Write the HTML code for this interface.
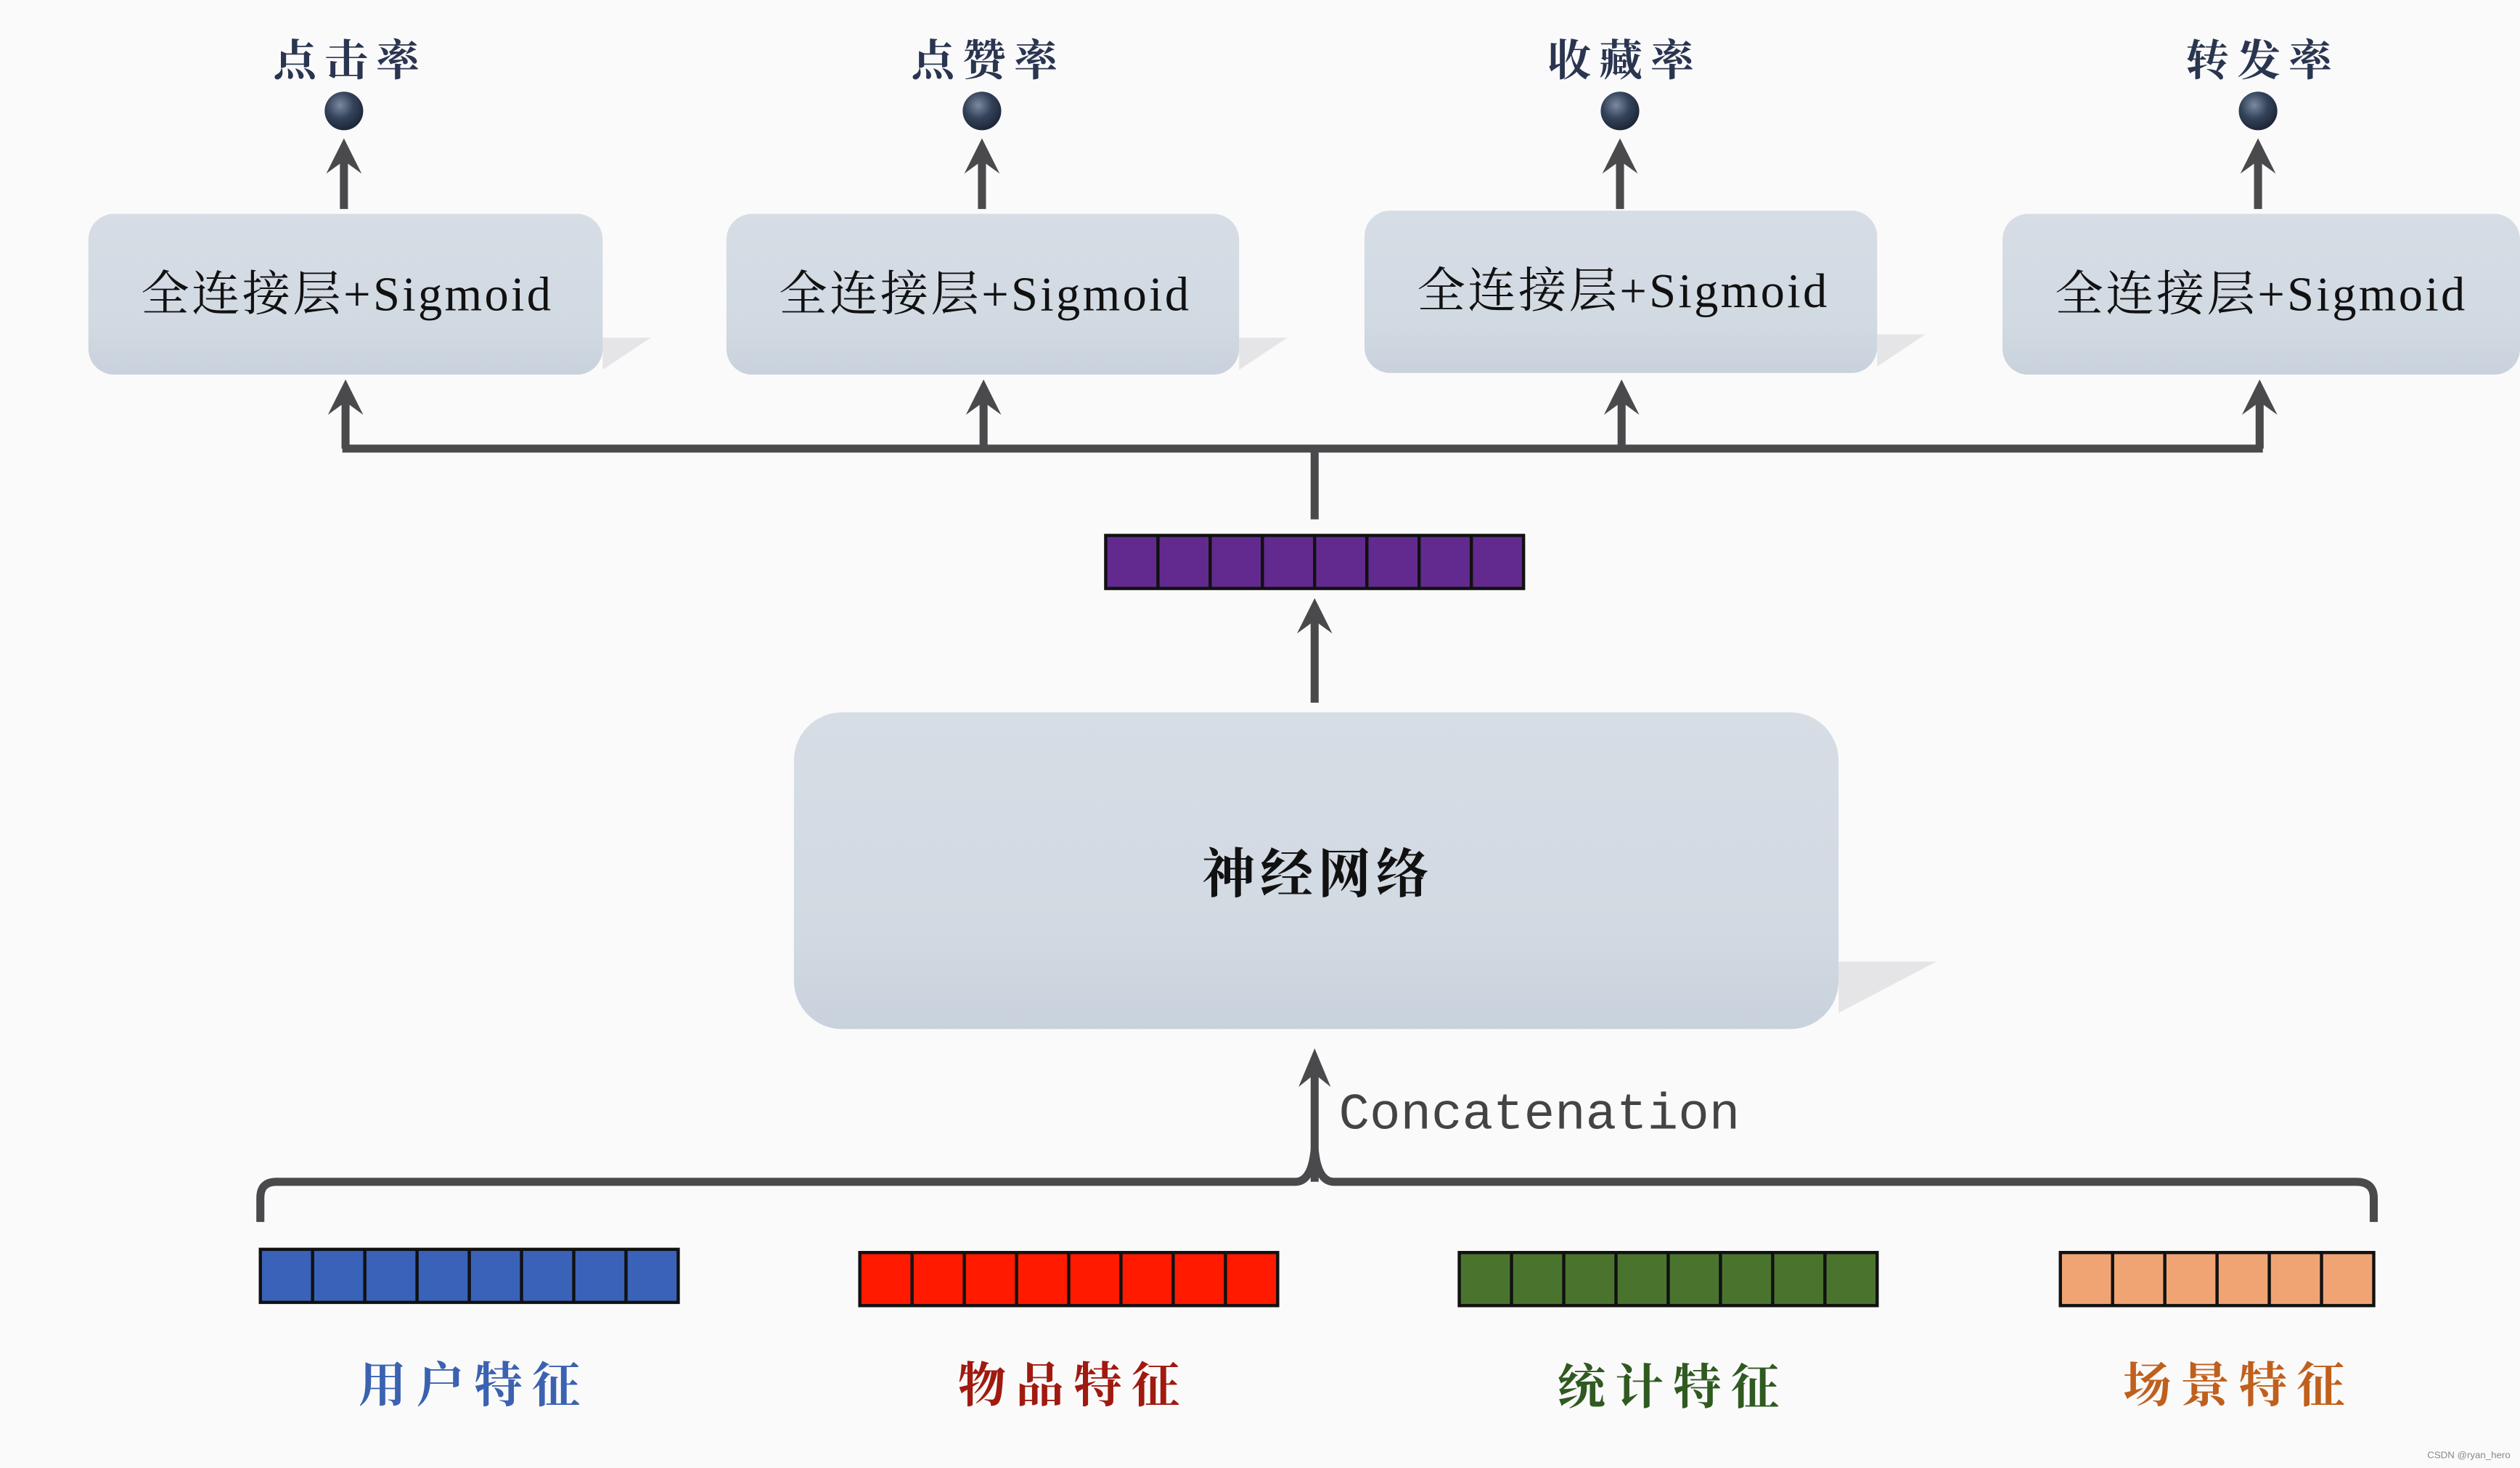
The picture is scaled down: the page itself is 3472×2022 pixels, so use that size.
<!DOCTYPE html>
<html><head><meta charset="utf-8"><style>
html,body{margin:0;padding:0;background:#fbfafb;}
svg{display:block}
</style></head><body>
<svg width="3472" height="2022" viewBox="0 0 1568 913" preserveAspectRatio="none" xmlns="http://www.w3.org/2000/svg">
<defs>
<radialGradient id="ball" cx="0.4" cy="0.35" r="0.7">
<stop offset="0" stop-color="#7a8aa0"/><stop offset="0.5" stop-color="#34435a"/><stop offset="1" stop-color="#1a2233"/>
</radialGradient>
<linearGradient id="box" x1="0" y1="0" x2="0" y2="1">
<stop offset="0" stop-color="#d6dde5"/><stop offset="0.7" stop-color="#d1d9e2"/><stop offset="1" stop-color="#c9d2dc"/>
</linearGradient>
</defs>
<rect width="1568" height="913" fill="#fbfafb"/>
<g font-family="'Liberation Serif','Noto Serif CJK SC',serif" font-weight="bold" font-size="27" fill="#2a3550" text-anchor="middle" letter-spacing="5">
<text x="218" y="47">点击率</text><text x="615" y="47">点赞率</text><text x="1011" y="47">收藏率</text><text x="1408" y="47">转发率</text>
</g>
<g fill="url(#ball)">
<circle cx="214" cy="69" r="12"/><circle cx="611" cy="69" r="12"/><circle cx="1008" cy="69" r="12"/><circle cx="1405" cy="69" r="12"/>
</g>
<g stroke="#4a4a4c" stroke-width="5" fill="none">
<path d="M214 130V92M611 130V92M1008 130V92M1405 130V92"/>
<path d="M215 279V242M612 279V242M1009 279V242M1406 279V242"/>
<path d="M213 279H1408M818 279V323"/>
<path d="M818 437V378"/>
<path d="M818 735V658"/>
<path d="M162 760V745Q162 735 172 735H806Q816 735 818 715Q820 735 830 735H1466Q1477 735 1477 745V760" stroke-width="5"/>
</g>
<g fill="#4a4a4c">
<path d="M214 86L203 108L214 100L225 108Z"/><path d="M611 86L600 108L611 100L622 108Z"/><path d="M1008 86L997 108L1008 100L1019 108Z"/><path d="M1405 86L1394 108L1405 100L1416 108Z"/>
<path d="M215 236L204 258L215 250L226 258Z"/><path d="M612 236L601 258L612 250L623 258Z"/><path d="M1009 236L998 258L1009 250L1020 258Z"/><path d="M1406 236L1395 258L1406 250L1417 258Z"/>
<path d="M818 372L807 394L818 386L829 394Z"/>
<path d="M818 652L808 676L818 668L828 676Z"/>
</g>
<g fill="#dcdcde" opacity="0.7">
<path d="M375 210L405 210L375 230Z"/><path d="M771 210L801 210L771 230Z"/><path d="M1168 208L1198 208L1168 228Z"/>
<path d="M1144 598L1205 598L1144 630Z"/>
</g>
<g fill="url(#box)">
<rect x="55" y="133" width="320" height="100" rx="16"/>
<rect x="452" y="133" width="319" height="100" rx="16"/>
<rect x="849" y="131" width="319" height="101" rx="16"/>
<rect x="1246" y="133" width="322" height="100" rx="16"/>
<rect x="494" y="443" width="650" height="197" rx="30"/>
</g>
<g font-family="'Liberation Serif','Noto Serif CJK SC',serif" font-size="30" fill="#111" text-anchor="middle" letter-spacing="1.5">
<text x="216" y="193">全连接层+Sigmoid</text><text x="613" y="193">全连接层+Sigmoid</text><text x="1010" y="191">全连接层+Sigmoid</text><text x="1407" y="193">全连接层+Sigmoid</text>
</g>
<text x="820" y="555" text-anchor="middle" font-family="'Liberation Serif','Noto Serif CJK SC',serif" font-weight="bold" font-size="33" fill="#111" letter-spacing="3">神经网络</text>
<text x="833" y="702" font-family="'Liberation Mono','DejaVu Sans Mono',monospace" font-size="32" fill="#444">Concatenation</text>
<g stroke="#111" stroke-width="2">
<rect x="688" y="333" width="260" height="33" fill="#622a8e"/>
<path d="M720.5 333v33M753 333v33M785.5 333v33M818 333v33M850.5 333v33M883 333v33M915.5 333v33"/>
<rect x="162" y="777" width="260" height="33" fill="#3962b8"/>
<path d="M194.5 777v33M227 777v33M259.5 777v33M292 777v33M324.5 777v33M357 777v33M389.5 777v33"/>
<rect x="535" y="779" width="260" height="33" fill="#ff1a00"/>
<path d="M567.5 779v33M600 779v33M632.5 779v33M665 779v33M697.5 779v33M730 779v33M762.5 779v33"/>
<rect x="908" y="779" width="260" height="33" fill="#4a742e"/>
<path d="M940.5 779v33M973 779v33M1005.5 779v33M1038 779v33M1070.5 779v33M1103 779v33M1135.5 779v33"/>
<rect x="1282" y="779" width="195" height="33" fill="#f0a474"/>
<path d="M1314.5 779v33M1347 779v33M1379.5 779v33M1412 779v33M1444.5 779v33"/>
</g>
<g font-family="'Liberation Serif','Noto Serif CJK SC',serif" font-weight="bold" font-size="30" text-anchor="middle" letter-spacing="6">
<text x="295" y="872" fill="#3a62b0">用户特征</text>
<text x="668" y="872" fill="#a01a10">物品特征</text>
<text x="1041" y="873" fill="#2f5a20">统计特征</text>
<text x="1393" y="872" fill="#c0601c">场景特征</text>
</g>
<text x="1562" y="907" text-anchor="end" font-family="'Liberation Sans',sans-serif" font-size="6" fill="#888">CSDN @ryan_hero</text>
</svg>
</body></html>
